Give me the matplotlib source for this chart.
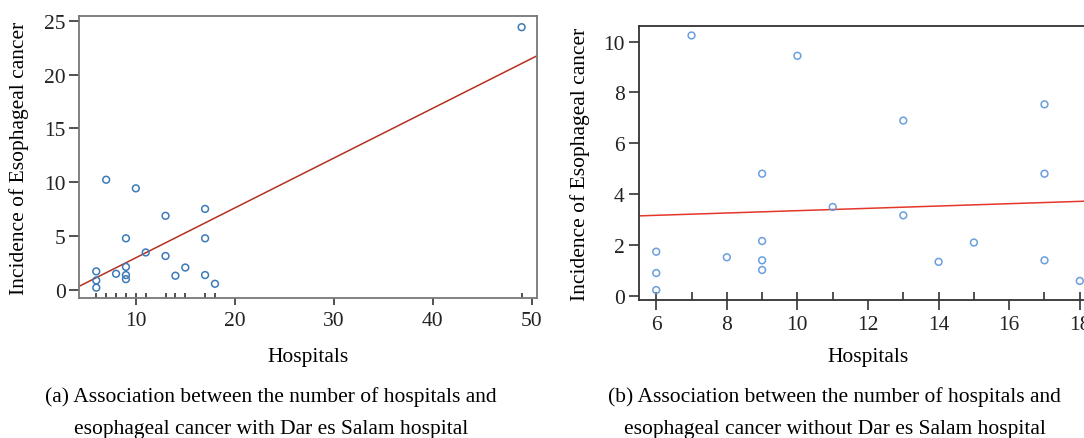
import numpy as np
import matplotlib
matplotlib.use("Agg")
import matplotlib.pyplot as plt
import matplotlib.transforms as mtransforms

# ================================
# DATA
# ================================
hosp = [6, 6, 6, 7, 8, 9, 9, 9, 9, 10, 11, 13, 13, 14, 15, 17, 17, 17, 18]
inc = [1.73, 0.89, 0.22, 10.24, 1.51, 4.80, 2.15, 1.39, 1.01, 9.44,
       3.49, 6.89, 3.16, 1.33, 2.09, 7.53, 4.80, 1.39, 0.58]
# Dar es Salaam
dsm_hosp = [49]
dsm_inc = [24.4]

ticks_a_x = [10, 20, 30, 40, 50]
ticks_a_y = [0, 5, 10, 15, 20, 25]
ticks_b_x = [6, 8, 10, 12, 14, 16, 18]
ticks_b_y = [0, 2, 4, 6, 8, 10]

ylab = "Incidence of Esophageal cancer"
xlab = "Hospitals"
cap_a = "(a) Association between the number of hospitals and\nesophageal cancer with Dar es Salam hospital"
cap_b = "(b) Association between the number of hospitals and\nesophageal cancer without Dar es Salam hospital"

plt.rcParams["font.family"] = ["Liberation Serif", "DejaVu Serif"]
FS = 15.5

fig = plt.figure(figsize=(10.84, 4.39), dpi=100)


def panel(ax, x, y, xlim, ylim, xt, yt, pt_col, line_col, frame_col,
          rug_len, xtick_len, ylab_x):
    x = np.asarray(x, float)
    y = np.asarray(y, float)
    ax.scatter(x, y, s=24, facecolors="none", edgecolors=pt_col,
               linewidths=1.1, zorder=3)
    b, a = np.polyfit(x, y, 1)
    xx = np.array(xlim)
    ax.plot(xx, a + b * xx, color=line_col, lw=1.1, zorder=2)
    # rug of x values
    trans = mtransforms.blended_transform_factory(ax.transData, ax.transAxes)
    ax.vlines(np.unique(x), 0, rug_len, transform=trans, color="#222222", lw=1.1)
    ax.set_xlim(xlim)
    ax.set_ylim(ylim)
    ax.set_xticks(xt)
    ax.set_yticks(yt)
    ax.tick_params(direction="out", width=1.1, labelsize=FS,
                   colors="#222222")
    ax.tick_params(axis="y", length=7, pad=3)
    ax.tick_params(axis="x", length=xtick_len, pad=4)
    for s in ax.spines.values():
        s.set_color(frame_col)
        s.set_linewidth(1.3)
    ax.set_xlabel(xlab, fontsize=FS, va="center")
    ax.xaxis.set_label_coords(0.5, -0.206)
    ax.set_ylabel(ylab, fontsize=FS, va="center")
    ax.yaxis.set_label_coords(ylab_x, 0.5)


ax1 = fig.add_axes([0.0733, 0.3189, 0.4225, 0.6424])
all_x = hosp + dsm_hosp
all_y = inc + dsm_inc
panel(ax1, all_x, all_y, (4.3, 50.6), (-0.74, 25.44), ticks_a_x, ticks_a_y,
      "#3d7ab8", "#b5301f", "#777777", 0.018, 5, -0.132)

ax2 = fig.add_axes([0.5891, 0.315, 0.4233, 0.6228])
panel(ax2, hosp, inc, (5.5, 18.5), (-0.16, 10.6), ticks_b_x, ticks_b_y,
      "#6a9fdc", "#e4372c", "#333333", 0.029, 7, -0.127)

for xc, cap in [(0.250, cap_a), (0.770, cap_b)]:
    l1, l2 = cap.split("\n")
    fig.text(xc, 1 - 397 / 439, l1, ha="center", va="center", fontsize=FS)
    fig.text(xc, 1 - 430 / 439, l2, ha="center", va="center", fontsize=FS)

fig.savefig("out.png", dpi=100)
